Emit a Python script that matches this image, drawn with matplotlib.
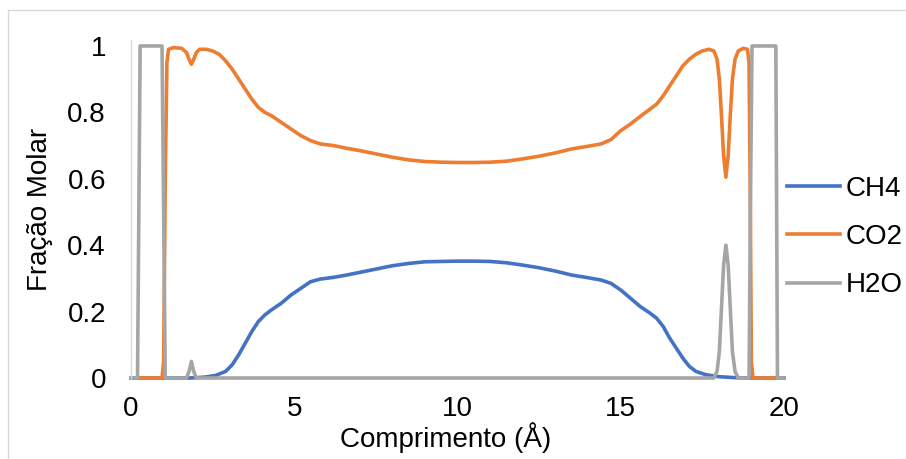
import matplotlib.pyplot as plt
from matplotlib.patches import Rectangle

plt.rcParams['font.family'] = ['Liberation Sans', 'DejaVu Sans']

# dados (comprimento em Å, fração molar)
x_ch4 = [0, 1.8, 2.0, 2.3, 2.6, 2.9, 3.1, 3.3, 3.5, 3.7, 3.9, 4.1, 4.3, 4.6, 4.9,
         5.2, 5.5, 5.8, 6.2, 6.6, 7.0, 7.5, 8.0, 8.5, 9.0, 9.5, 10.0, 10.5, 11.0,
         11.5, 12.0, 12.5, 13.0, 13.5, 14.0, 14.4, 14.7, 15.0, 15.3, 15.6, 15.9,
         16.1, 16.3, 16.5, 16.7, 16.9, 17.1, 17.3, 17.6, 18.0, 18.5, 19.0, 20.0]
y_ch4 = [0, 0, 0.001, 0.003, 0.008, 0.02, 0.04, 0.07, 0.105, 0.14, 0.17, 0.19,
         0.205, 0.225, 0.25, 0.27, 0.29, 0.298, 0.303, 0.31, 0.318, 0.328, 0.338,
         0.345, 0.35, 0.351, 0.352, 0.352, 0.351, 0.347, 0.34, 0.332, 0.322, 0.31,
         0.302, 0.295, 0.285, 0.265, 0.24, 0.215, 0.195, 0.18, 0.155, 0.12, 0.09,
         0.06, 0.035, 0.02, 0.01, 0.004, 0.001, 0, 0]

x_co2 = [0.3, 0.95, 1.0, 1.05, 1.1, 1.15, 1.3, 1.55, 1.7, 1.8, 1.85, 1.9, 2.0, 2.1,
         2.3, 2.5, 2.7, 2.9, 3.1, 3.3, 3.5, 3.7, 3.9, 4.1, 4.3, 4.6, 4.9, 5.2, 5.5,
         5.8, 6.2, 6.6, 7.0, 7.5, 8.0, 8.5, 9.0, 9.5, 10.0, 10.5, 11.0, 11.5, 12.0,
         12.5, 13.0, 13.5, 14.0, 14.4, 14.7, 15.0, 15.3, 15.6, 15.9, 16.1, 16.3,
         16.5, 16.7, 16.9, 17.1, 17.3, 17.5, 17.7, 17.85, 17.95, 18.02, 18.08, 18.15,
         18.22, 18.29, 18.36, 18.42, 18.5, 18.6, 18.75, 18.88, 18.93, 18.97, 19.0,
         19.05, 19.72]
y_co2 = [0, 0, 0.05, 0.6, 0.95, 0.99, 0.995, 0.993, 0.98, 0.955, 0.945, 0.955, 0.98,
         0.99, 0.99, 0.985, 0.975, 0.955, 0.93, 0.9, 0.87, 0.84, 0.815, 0.8, 0.79,
         0.77, 0.75, 0.73, 0.715, 0.705, 0.7, 0.692, 0.685, 0.675, 0.665, 0.657,
         0.652, 0.65, 0.649, 0.649, 0.65, 0.653, 0.66, 0.668, 0.678, 0.69, 0.698,
         0.705, 0.718, 0.745, 0.765, 0.788, 0.81, 0.825, 0.85, 0.88, 0.91, 0.94,
         0.96, 0.975, 0.985, 0.99, 0.985, 0.96, 0.9, 0.8, 0.67, 0.605, 0.67, 0.8,
         0.9, 0.96, 0.985, 0.993, 0.99, 0.95, 0.5, 0.05, 0, 0]

x_h2o = [0, 0.2, 0.24, 0.28, 0.95, 1.0, 1.05, 1.7, 1.78, 1.85, 1.92, 2.0, 17.85,
         17.95, 18.02, 18.08, 18.15, 18.22, 18.29, 18.36, 18.42, 18.5, 18.6, 18.93,
         18.97, 19.02, 19.75, 19.8, 20.0]
y_h2o = [0, 0, 0.5, 1, 1, 0.5, 0, 0, 0.02, 0.05, 0.02, 0, 0, 0.02, 0.08, 0.2, 0.34,
         0.4, 0.34, 0.2, 0.08, 0.02, 0, 0, 0.5, 1, 1, 0, 0]

series = ['CH4', 'CO2', 'H2O']
colors = ['#4472C4', '#ED7D31', '#A5A5A5']

W, H = 906, 459
fig = plt.figure(figsize=(W / 100, H / 100), dpi=100)

# moldura do gráfico (cortada à direita e embaixo)
fig.patches.append(Rectangle((8 / W, -0.1), 1.2, 1 - 10 / H + 0.1, transform=fig.transFigure,
                             fill=False, edgecolor='#D9D9D9', linewidth=1))

ax = fig.add_axes([131 / W, 1 - 378 / H, (784 - 131) / W, (378 - 40) / H])

for xs, ys, name, c in zip([x_ch4, x_co2, x_h2o], [y_ch4, y_co2, y_h2o], series, colors):
    ax.plot(xs, ys, color=c, lw=2.6, label=name, solid_joinstyle='round',
            clip_on=False)

ax.set_xlim(0, 20)
ax.set_ylim(0, 1.018)
ax.set_xticks([0, 5, 10, 15, 20])
ax.set_yticks([0, 0.2, 0.4, 0.6, 0.8, 1.0])
ax.set_yticklabels(['0', '0.2', '0.4', '0.6', '0.8', '1'])
ax.tick_params(axis='both', length=0, labelsize=20)
ax.tick_params(axis='x', pad=13)
ax.tick_params(axis='y', pad=18)

for s in ['top', 'right', 'bottom']:
    ax.spines[s].set_visible(False)
ax.spines['left'].set_color('#D9D9D9')
ax.spines['left'].set_linewidth(1)

ax.set_xlabel('Comprimento (Å)', fontsize=20)
ax.xaxis.set_label_coords((446 - 131) / 653, -0.13)
ax.set_ylabel('Fração Molar', fontsize=20)
ax.yaxis.set_label_coords(-0.119, 0.5)

ax.legend(loc='center left', bbox_to_anchor=(787 / W, 1 - 237 / H),
          bbox_transform=fig.transFigure, frameon=False, fontsize=20,
          handlelength=1.9, handletextpad=0.2, labelspacing=0.8,
          borderpad=0, borderaxespad=0)

fig.savefig('out.png', dpi=100)
